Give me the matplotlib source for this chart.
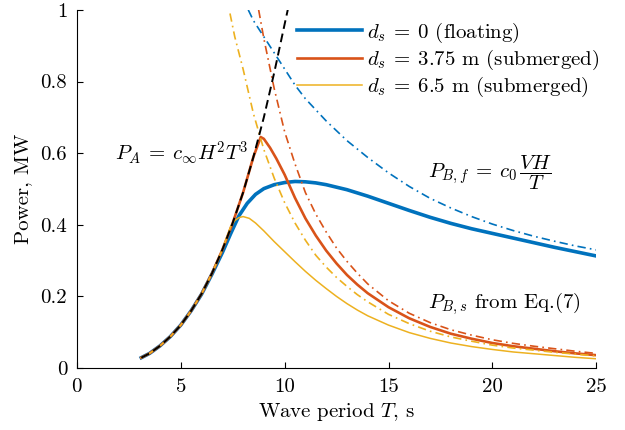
import matplotlib
matplotlib.use('Agg')
import matplotlib.pyplot as plt

# P_A = c_inf H^2 T^3 (black dashed)
T_A = [3.1, 3.5, 4.0, 4.5, 5.0, 5.5, 6.0, 6.5, 7.0, 7.5, 8.0, 8.5, 9.0, 9.5, 10.0, 10.15]
P_A = [0.029, 0.041, 0.062, 0.088, 0.120, 0.160, 0.207, 0.264, 0.330, 0.405, 0.490, 0.590,
       0.700, 0.825, 0.960, 1.0]

# d_s = 0 (floating), solid
T_float = [3.1, 3.5, 4.0, 4.5, 5.0, 5.5, 6.0, 6.5, 7.0, 7.4, 7.8, 8.2, 8.6, 9.0, 9.5, 10.0,
           10.5, 11.0, 11.5, 12.0, 13.0, 14.0, 15.0, 16.0, 17.0, 18.0, 19.0, 20.0, 21.0,
           22.0, 23.0, 24.0, 25.0]
P_float = [0.029, 0.041, 0.062, 0.088, 0.120, 0.160, 0.206, 0.262, 0.322, 0.375, 0.425,
           0.460, 0.485, 0.501, 0.512, 0.518, 0.521, 0.520, 0.517, 0.512, 0.498, 0.480,
           0.460, 0.440, 0.421, 0.404, 0.389, 0.376, 0.363, 0.350, 0.337, 0.325, 0.313]
# P_B,f (floating), dash-dot
T_float_B = [8.25, 8.5, 9.0, 9.5, 10.0, 10.5, 11.0, 12.0, 13.0, 14.0, 15.0, 16.0, 17.0,
             18.0, 19.0, 20.0, 21.0, 22.0, 23.0, 24.0, 25.0]
P_float_B = [1.0, 0.97, 0.925, 0.88, 0.835, 0.79, 0.752, 0.69, 0.635, 0.588, 0.545, 0.507,
             0.474, 0.447, 0.423, 0.402, 0.384, 0.368, 0.354, 0.341, 0.33]

# d_s = 3.75 m (submerged), solid
T_sub1 = [3.1, 3.5, 4.0, 4.5, 5.0, 5.5, 6.0, 6.5, 7.0, 7.5, 8.0, 8.5, 8.85, 9.0, 9.3, 9.6,
          10.0, 10.5, 11.0, 11.5, 12.0, 12.5, 13.0, 13.5, 14.0, 15.0, 16.0, 17.0, 18.0,
          19.0, 20.0, 21.0, 22.0, 23.0, 24.0, 25.0]
P_sub1 = [0.029, 0.041, 0.062, 0.088, 0.120, 0.160, 0.207, 0.264, 0.330, 0.405, 0.490,
          0.590, 0.645, 0.640, 0.615, 0.585, 0.540, 0.475, 0.418, 0.370, 0.328, 0.292,
          0.260, 0.233, 0.209, 0.170, 0.139, 0.115, 0.096, 0.082, 0.070, 0.061, 0.054,
          0.047, 0.041, 0.036]
# P_B,s for d_s = 3.75 m, dash-dot
T_sub1_B = [8.75, 9.0, 9.5, 10.0, 10.5, 11.0, 11.5, 12.0, 12.5, 13.0, 13.5, 14.0, 15.0,
            16.0, 17.0, 18.0, 19.0, 20.0, 21.0, 22.0, 23.0, 24.0, 25.0]
P_sub1_B = [1.0, 0.92, 0.78, 0.66, 0.57, 0.49, 0.43, 0.38, 0.335, 0.298, 0.265, 0.235,
            0.188, 0.153, 0.127, 0.107, 0.092, 0.079, 0.069, 0.061, 0.054, 0.047, 0.041]

# d_s = 6.5 m (submerged), solid
T_sub2 = [3.1, 3.5, 4.0, 4.5, 5.0, 5.5, 6.0, 6.5, 7.0, 7.4, 7.6, 7.8, 8.0, 8.3, 8.6, 9.0,
          9.5, 10.0, 10.5, 11.0, 11.5, 12.0, 12.5, 13.0, 13.5, 14.0, 15.0, 16.0, 17.0,
          18.0, 19.0, 20.0, 21.0, 22.0, 23.0, 24.0, 25.0]
P_sub2 = [0.029, 0.041, 0.062, 0.088, 0.120, 0.160, 0.207, 0.264, 0.330, 0.395, 0.412,
          0.420, 0.423, 0.418, 0.405, 0.383, 0.353, 0.325, 0.297, 0.270, 0.245, 0.222,
          0.200, 0.180, 0.162, 0.146, 0.120, 0.099, 0.083, 0.070, 0.060, 0.052, 0.045,
          0.040, 0.035, 0.030, 0.026]
# P_B,s for d_s = 6.5 m, dash-dot
T_sub2_B = [7.37, 7.6, 8.0, 8.5, 9.0, 9.5, 10.0, 10.5, 11.0, 11.5, 12.0, 12.5, 13.0, 13.5,
            14.0, 15.0, 16.0, 17.0, 18.0, 19.0, 20.0, 21.0, 22.0, 23.0, 24.0, 25.0]
P_sub2_B = [0.99, 0.925, 0.835, 0.71, 0.61, 0.53, 0.462, 0.405, 0.357, 0.315, 0.282, 0.253,
            0.228, 0.205, 0.185, 0.150, 0.124, 0.103, 0.087, 0.075, 0.064, 0.056, 0.050,
            0.044, 0.039, 0.034]

BLUE = '#0072BD'
RED = '#D95319'
YELLOW = '#EDB120'
DASHDOT = (5, 2.5, 1, 2.5)
FS = 15


def main():
    plt.rcParams['font.family'] = 'serif'
    plt.rcParams['font.serif'] = ['cmr10']
    plt.rcParams['mathtext.fontset'] = 'cm'
    plt.rcParams['axes.unicode_minus'] = False
    plt.rcParams['font.size'] = FS

    fig = plt.figure(figsize=(6.25, 4.3), dpi=100)
    ax = fig.add_axes([0.123, 0.144, 0.831, 0.833])

    ax.plot(T_float, P_float, color=BLUE, lw=2.6, label=r'$d_s \:=\: 0$ (floating)')
    ax.plot(T_sub1, P_sub1, color=RED, lw=1.9, label=r'$d_s \:=\: 3.75$ m (submerged)')
    ax.plot(T_sub2, P_sub2, color=YELLOW, lw=1.1, label=r'$d_s \:=\: 6.5$ m (submerged)')

    ax.plot(T_float_B, P_float_B, color=BLUE, lw=1.2, dashes=DASHDOT)
    ax.plot(T_sub1_B, P_sub1_B, color=RED, lw=1.2, dashes=DASHDOT)
    ax.plot(T_sub2_B, P_sub2_B, color=YELLOW, lw=1.2, dashes=DASHDOT)

    ax.plot(T_A, P_A, color='black', lw=1.4, dashes=(4.5, 2.5))

    ax.set_xlim(0, 25)
    ax.set_ylim(0, 1)
    ax.set_xticks([0, 5, 10, 15, 20, 25])
    ax.set_yticks([0, 0.2, 0.4, 0.6, 0.8, 1.0])
    ax.set_yticklabels(['0', '0.2', '0.4', '0.6', '0.8', '1'])
    ax.tick_params(direction='in', length=4, width=0.8, labelsize=FS, pad=7)
    ax.spines['top'].set_visible(False)
    ax.spines['right'].set_visible(False)
    ax.set_xlabel(r'Wave period $T$, s', fontsize=FS, labelpad=4)
    ax.set_ylabel('Power, MW', fontsize=FS, labelpad=6)

    ax.text(1.83, 0.60, r'$P_A \:=\: c_\infty H^2 T^3$', fontsize=FS, va='center',
            ha='left')
    ax.text(16.9, 0.545, r'$P_{B,f} \:=\: c_0\,\dfrac{VH}{T}$', fontsize=FS, va='center',
            ha='left')
    ax.text(16.9, 0.18, r'$P_{B,s}$ from Eq.(7)', fontsize=FS, va='center', ha='left')

    ax.legend(loc='upper left', bbox_to_anchor=(0.424, 0.97), frameon=False,
              handlelength=3.1, handletextpad=0.25, labelspacing=0.15,
              borderaxespad=0, borderpad=0, fontsize=FS)

    fig.savefig('out.png', dpi=100)
    plt.close(fig)


if __name__ == '__main__':
    main()
